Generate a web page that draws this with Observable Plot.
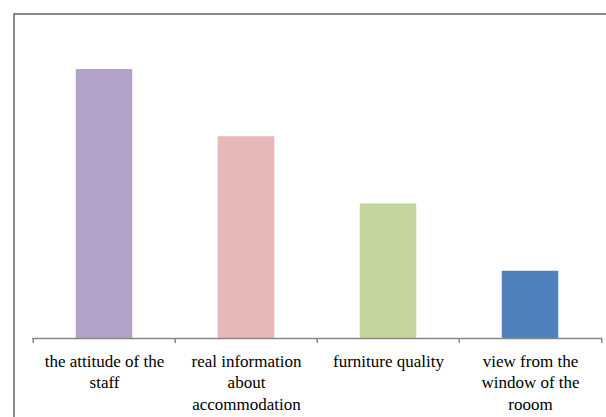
<!DOCTYPE html>
<html>
<head>
<meta charset="utf-8">
<script src="https://cdn.jsdelivr.net/npm/d3@7"></script>
<script src="https://cdn.jsdelivr.net/npm/@observablehq/plot@0.6"></script>
<style>
  html, body { margin: 0; padding: 0; background: #fff; }
  #wrap { position: relative; width: 606px; height: 417px; overflow: hidden; }
  #frame { position: absolute; left: 13px; top: 13px; width: 600px; height: 420px;
           border-left: 2px solid #888888; border-top: 2px solid #888888; box-sizing: border-box; }
  #chart { position: absolute; left: 0; top: 0; }
  #chart svg text { font-family: "Liberation Serif", "Times New Roman", serif; font-size: 17px; fill: #000; }
</style>
</head>
<body>
<div id="wrap"><div id="frame"></div><div id="chart"></div></div>
<script>
const categories = ["the attitude of the staff", "real information about accommodation", "furniture quality", "view from the window of the rooom"];
const tickLabels = ["the attitude of the\nstaff", "real information\nabout\naccommodation", "furniture quality", "view from the\nwindow of the\nrooom"];
const values = [4, 3, 2, 1];
const colors = ["#B3A2C7", "#E6B9B8", "#C3D69B", "#4F81BD"];

const data = categories.map((c, i) => ({category: c, value: values[i]}));
const labelOf = new Map(categories.map((c, i) => [c, tickLabels[i]]));

const W = 606, mL = 32, mR = 4;
const band = (W - mL - mR) / categories.length;

const chart = Plot.plot({
  width: W,
  height: 417,
  marginLeft: mL,
  marginRight: mR,
  marginTop: 69,
  marginBottom: 79,
  style: {background: "transparent", fontFamily: "Liberation Serif, serif", fontSize: "17px"},
  x: {domain: categories, padding: 0, axis: null, label: null},
  y: {domain: [0, 4], axis: null},
  color: {domain: categories, range: colors},
  marks: [
    Plot.barY(data, {x: "category", y: "value", fill: "category", insetLeft: (band - 57) / 2, insetRight: (band - 57) / 2}),
    Plot.ruleY([0], {stroke: "#888888", strokeWidth: 1.5}),
    Plot.axisX({ticks: categories, tickSize: 5, tickFormat: () => "", label: null, dx: -band / 2, stroke: "#888888", strokeWidth: 1.5}),
    Plot.axisX({ticks: [categories[categories.length - 1]], tickSize: 5, tickFormat: () => "", label: null, dx: band / 2, stroke: "#888888", strokeWidth: 1.5}),
    Plot.axisX({ticks: categories, tickSize: 0, tickPadding: 13, label: null, tickFormat: d => labelOf.get(d),
      fontSize: 17, lineHeight: 1.26, fill: "#000"})
  ]
});
document.getElementById("chart").appendChild(chart);
</script>
</body>
</html>
